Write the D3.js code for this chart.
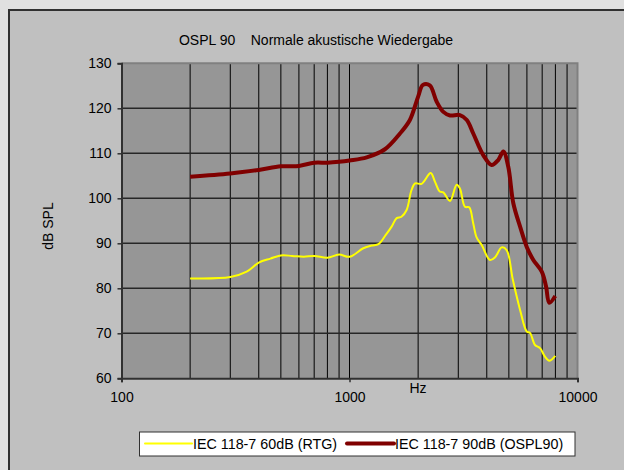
<!DOCTYPE html>
<html>
<head>
<meta charset="utf-8">
<script src="https://cdn.jsdelivr.net/npm/d3@7"></script>
<style>
  html, body { margin: 0; padding: 0; background: #e0e0e0; }
  svg { display: block; font-family: "Liberation Sans", Arial, sans-serif; }
</style>
</head>
<body>
<div id="chart"></div>
<script>
// OSPL90 curve (IEC 118-7, 90 dB input)
const freqOspl = [200, 300, 400, 500, 600, 700, 800, 900, 1000, 1190, 1430, 1665, 1840, 2000, 2100, 2250,
  2410, 2580, 2760, 3050, 3270, 3490, 3860, 4200, 4490, 4730, 4970, 5230, 5600, 5990, 6400, 6970, 7280, 7520, 7990];
const ospl = [104.8, 105.5, 106.3, 107.1, 107.2, 107.9, 107.9, 108.1, 108.4, 109.1, 110.9, 114.4, 117.4, 122.6, 125.2, 125.1,
  121.5, 119.2, 118.4, 118.5, 117.4, 114.4, 109.6, 107.4, 108.5, 110.4, 107.0, 98.9, 93.7, 89.2, 86.3, 83.7, 80.4, 76.8, 78.3];

// RTG curve (IEC 118-7, 60 dB input)
const freqRtg = [200, 300, 354, 400, 450, 500, 560, 630, 700, 800, 900, 1000, 1150, 1250, 1340, 1440, 1530, 1610, 1690,
  1780, 1870, 1940, 2070, 2270, 2370, 2490, 2580, 2760, 2950, 3050, 3210, 3350, 3490, 3610, 3800, 4130, 4350, 4650, 4890,
  5200, 5600, 5990, 6190, 6510, 6850, 7200, 7520, 7990];
const rtg = [82.2, 82.5, 83.7, 85.7, 86.6, 87.3, 87.2, 87.0, 87.2, 86.8, 87.5, 87.0, 88.9, 89.5, 89.8, 91.8, 93.7, 95.6, 95.9,
  97.4, 101.8, 103.3, 103.2, 105.6, 103.7, 101.5, 101.3, 99.4, 103.0, 102.2, 98.1, 98.0, 94.4, 91.3, 89.6, 86.3, 86.9, 89.1, 88.5,
  82.0, 75.2, 70.4, 70.1, 67.4, 66.7, 64.8, 63.9, 65.0];

const yTicks = [60, 70, 80, 90, 100, 110, 120, 130];
const xTicks = [100, 1000, 10000];
const seriesNames = ['IEC 118-7 60dB (RTG)', 'IEC 118-7 90dB (OSPL90)'];

const width = 624, height = 470;
const plot = {left: 121.5, right: 577.5, top: 63.3, bottom: 378.3};

const svg = d3.select('#chart').append('svg')
  .attr('width', width)
  .attr('height', height);

// chart area
svg.append('rect')
  .attr('x', 9).attr('y', 10)
  .attr('width', 700).attr('height', 600)
  .attr('fill', '#c0c0c0')
  .attr('stroke', '#303030')
  .attr('stroke-width', 2);

const x = d3.scaleLog().domain([100, 10000]).range([plot.left, plot.right]);
const y = d3.scaleLinear().domain([60, 130]).range([plot.bottom, plot.top]);

// plot area
svg.append('rect')
  .attr('x', plot.left).attr('y', plot.top)
  .attr('width', plot.right - plot.left).attr('height', plot.bottom - plot.top)
  .attr('fill', '#969696');

// minor vertical grid (log)
const vGrid = x.ticks().filter(d => d > 100 && d < 10000);
svg.append('g').selectAll('line')
  .data(vGrid)
  .enter().append('line')
  .attr('x1', d => x(d)).attr('x2', d => x(d))
  .attr('y1', plot.top).attr('y2', plot.bottom)
  .attr('stroke', '#000')
  .attr('stroke-width', 1);

// horizontal grid
svg.append('g').selectAll('line')
  .data(yTicks.filter(d => d > 60 && d < 130))
  .enter().append('line')
  .attr('x1', plot.left).attr('x2', plot.right)
  .attr('y1', d => y(d)).attr('y2', d => y(d))
  .attr('stroke', '#262626')
  .attr('stroke-width', 1.5);

// plot border top/right
svg.append('path')
  .attr('d', `M${plot.left},${plot.top}H${plot.right}V${plot.bottom}`)
  .attr('fill', 'none')
  .attr('stroke', '#808080')
  .attr('stroke-width', 2);

// axes
const yAxis = svg.append('g')
  .attr('transform', `translate(${plot.left},0)`)
  .call(d3.axisLeft(y).tickValues(yTicks).tickSize(4).tickPadding(6));
const xAxis = svg.append('g')
  .attr('transform', `translate(0,${plot.bottom})`)
  .call(d3.axisBottom(x).tickValues(xTicks).tickFormat(d3.format('d')).tickSize(4).tickPadding(10));

[yAxis, xAxis].forEach(g => {
  g.select('.domain').attr('stroke', '#303030').attr('stroke-width', 2);
  g.selectAll('.tick line').attr('stroke', '#303030').attr('stroke-width', 1.5);
  g.selectAll('.tick text')
    .attr('fill', '#000')
    .style('font-size', '14px')
    .style('font-family', '"Liberation Sans", Arial, sans-serif');
});

// curves
const line = d3.line()
  .curve(d3.curveCatmullRom.alpha(0.5))
  .x(d => x(d[0]))
  .y(d => y(d[1]));

svg.append('path')
  .datum(d3.zip(freqRtg, rtg))
  .attr('d', line)
  .attr('fill', 'none')
  .attr('stroke', '#ffff00')
  .attr('stroke-width', 2);

svg.append('path')
  .datum(d3.zip(freqOspl, ospl))
  .attr('d', line)
  .attr('fill', 'none')
  .attr('stroke', '#800000')
  .attr('stroke-width', 4)
  .attr('stroke-linejoin', 'round');

// title
svg.append('text')
  .attr('x', 316).attr('y', 45)
  .attr('text-anchor', 'middle')
  .style('font-size', '14px')
  .style('white-space', 'pre')
  .attr('xml:space', 'preserve')
  .text('OSPL 90    Normale akustische Wiedergabe');

// axis titles
svg.append('text')
  .attr('x', 418).attr('y', 393)
  .attr('text-anchor', 'middle')
  .style('font-size', '14px')
  .text('Hz');

svg.append('text')
  .attr('transform', 'translate(53,226) rotate(-90)')
  .attr('text-anchor', 'middle')
  .style('font-size', '14px')
  .text('dB SPL');

// legend
const legend = svg.append('g');
legend.append('rect')
  .attr('x', 139.5).attr('y', 432)
  .attr('width', 435.5).attr('height', 24)
  .attr('fill', '#fff')
  .attr('stroke', '#303030')
  .attr('stroke-width', 1);

const legendItems = [
  {name: seriesNames[0], color: '#ffff00', w: 2, x0: 145},
  {name: seriesNames[1], color: '#800000', w: 4, x0: 347}
];
legendItems.forEach(item => {
  legend.append('line')
    .attr('x1', item.x0).attr('x2', item.x0 + 47)
    .attr('y1', 443.5).attr('y2', 443.5)
    .attr('stroke', item.color)
    .attr('stroke-width', item.w)
    .attr('stroke-linecap', 'round');
  legend.append('text')
    .attr('x', item.x0 + 48).attr('y', 448.5)
    .style('font-size', '14.3px')
    .text(item.name);
});
</script>
</body>
</html>
